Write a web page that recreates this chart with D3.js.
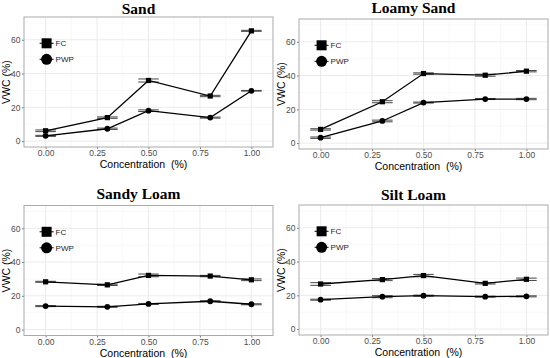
<!DOCTYPE html>
<html lang="en">
<head>
<meta charset="UTF-8">
<title>VWC vs concentration</title>
<script src="https://d3js.org/d3.v7.min.js"></script>
<style>
  body { margin: 0; background: #fff; }
  text { font-family: "Liberation Sans", Arial, sans-serif; }
</style>
</head>
<body>
<svg id="chart" width="550" height="358"></svg>
<script>
// data
const soils = ["Sand", "Loamy Sand", "Sandy Loam", "Silt Loam"];
const concentration = [0, 0.3, 0.5, 0.8, 1.0];

const fcSand = [6.1, 13.9, 35.9, 26.7, 65.3];
const pwpSand = [3.1, 7.3, 18.0, 13.9, 29.8];
const fcLoamySand = [8.1, 24.5, 41.2, 40.2, 42.6];
const pwpLoamySand = [3.2, 13.1, 24.0, 26.1, 26.1];
const fcSandyLoam = [28.3, 26.5, 32.1, 31.7, 29.5];
const pwpSandyLoam = [13.9, 13.5, 15.2, 16.8, 15.0];
const fcSiltLoam = [26.7, 29.3, 31.7, 27.1, 29.5];
const pwpSiltLoam = [17.4, 19.2, 19.8, 19.2, 19.4];

// standard errors (half the spread of the double error-bar lines)
const seFcSand = [0.5, 0.4, 0.9, 0.4, 0.3];
const sePwpSand = [0.3, 0.4, 0.5, 0.3, 0.2];
const seFcLoamySand = [0.4, 0.6, 0.4, 0.6, 0.4];
const sePwpLoamySand = [0.4, 0.5, 0.3, 0.3, 0.4];
const seFcSandyLoam = [0.3, 0.4, 0.8, 0.4, 0.5];
const sePwpSandyLoam = [0.3, 0.3, 0.3, 0.3, 0.3];
const seFcSiltLoam = [0.8, 0.6, 0.7, 0.4, 0.7];
const sePwpSiltLoam = [0.3, 0.6, 0.3, 0.3, 0.3];

const xTicks = [0, 0.25, 0.5, 0.75, 1.0];
const yTicks = [0, 20, 40, 60];

const series = {
  "Sand": [fcSand, pwpSand, seFcSand, sePwpSand],
  "Loamy Sand": [fcLoamySand, pwpLoamySand, seFcLoamySand, sePwpLoamySand],
  "Sandy Loam": [fcSandyLoam, pwpSandyLoam, seFcSandyLoam, sePwpSandyLoam],
  "Silt Loam": [fcSiltLoam, pwpSiltLoam, seFcSiltLoam, sePwpSiltLoam]
};

// panel placement (left, top of the plotting area, title baseline y)
const layout = [
  {left: 24, top: 17, titleY: 13.5},
  {left: 299, top: 19, titleY: 13},
  {left: 24, top: 205.5, titleY: 199},
  {left: 299, top: 205, titleY: 200}
];

const pw = 249, ph = 130;
const svg = d3.select("#chart");

soils.forEach(function (name, k) {
  const L = layout[k];
  const [fc, pwp, seFc, sePwp] = series[name];

  const x = d3.scaleLinear().domain([-0.105, 1.105]).range([0, pw]);
  const y = d3.scaleLinear().domain([-3.5, 73.5]).range([ph, 0]);

  const g = svg.append("g").attr("transform", "translate(" + L.left + "," + L.top + ")");

  // minor grid
  g.selectAll(".xminor").data([0.125, 0.375, 0.625, 0.875]).enter().append("line")
    .attr("x1", d => x(d)).attr("x2", d => x(d)).attr("y1", 0).attr("y2", ph)
    .attr("stroke", "#f3f3f3").attr("stroke-width", 0.6);
  g.selectAll(".yminor").data([10, 30, 50, 70]).enter().append("line")
    .attr("y1", d => y(d)).attr("y2", d => y(d)).attr("x1", 0).attr("x2", pw)
    .attr("stroke", "#f3f3f3").attr("stroke-width", 0.6);
  // major grid
  g.selectAll(".xmajor").data(xTicks).enter().append("line")
    .attr("x1", d => x(d)).attr("x2", d => x(d)).attr("y1", 0).attr("y2", ph)
    .attr("stroke", "#ebebeb").attr("stroke-width", 1);
  g.selectAll(".ymajor").data(yTicks).enter().append("line")
    .attr("y1", d => y(d)).attr("y2", d => y(d)).attr("x1", 0).attr("x2", pw)
    .attr("stroke", "#ebebeb").attr("stroke-width", 1);

  // axes
  const xAxis = g.append("g").attr("transform", "translate(0," + ph + ")")
    .call(d3.axisBottom(x).tickValues(xTicks).tickFormat(d3.format(".2f")).tickSize(2).tickPadding(1));
  const yAxis = g.append("g")
    .call(d3.axisLeft(y).tickValues(yTicks).tickSize(2).tickPadding(1.5));
  [xAxis, yAxis].forEach(function (a) {
    a.select(".domain").remove();
    a.selectAll(".tick line").attr("stroke", "#777");
    a.selectAll(".tick text").attr("fill", "#4d4d4d").style("font-size", "8.5px");
  });

  // border
  g.append("rect").attr("width", pw).attr("height", ph)
    .attr("fill", "none").attr("stroke", "#aaaaaa").attr("stroke-width", 1);

  // error bars (horizontal caps, width 0.1)
  [[fc, seFc], [pwp, sePwp]].forEach(function (s) {
    const vals = s[0], se = s[1];
    concentration.forEach(function (c, i) {
      [vals[i] - se[i], vals[i] + se[i]].forEach(function (v) {
        g.append("line")
          .attr("x1", x(c - 0.05)).attr("x2", x(c + 0.05))
          .attr("y1", y(v)).attr("y2", y(v))
          .attr("stroke", "#444").attr("stroke-width", 1);
      });
    });
  });

  // lines
  const line = d3.line().x((d, i) => x(concentration[i])).y(d => y(d));
  [fc, pwp].forEach(function (vals) {
    g.append("path").attr("d", line(vals))
      .attr("fill", "none").attr("stroke", "#000").attr("stroke-width", 1.3);
  });

  // points
  g.selectAll(".sq").data(fc).enter().append("rect")
    .attr("x", (d, i) => x(concentration[i]) - 2.6).attr("y", d => y(d) - 2.6)
    .attr("width", 5.2).attr("height", 5.2).attr("fill", "#000");
  g.selectAll(".ci").data(pwp).enter().append("circle")
    .attr("cx", (d, i) => x(concentration[i])).attr("cy", d => y(d))
    .attr("r", 2.9).attr("fill", "#000");

  // legend inside the panel
  const lg = g.append("g").attr("transform", "translate(" + (x(0) + 1) + "," + (y(60) + 3.5) + ")");
  lg.append("line").attr("x1", -7).attr("x2", 7).attr("y1", 0).attr("y2", 0)
    .attr("stroke", "#000").attr("stroke-width", 1);
  lg.append("rect").attr("x", -5).attr("y", -5).attr("width", 10).attr("height", 10).attr("fill", "#000");
  lg.append("text").attr("x", 9).attr("y", 3).style("font-size", "8px").attr("fill", "#222").text("FC");
  lg.append("line").attr("x1", -7).attr("x2", 7).attr("y1", 16).attr("y2", 16)
    .attr("stroke", "#000").attr("stroke-width", 1);
  lg.append("circle").attr("cx", 0).attr("cy", 16).attr("r", 5.5).attr("fill", "#000");
  lg.append("text").attr("x", 9).attr("y", 19).style("font-size", "8px").attr("fill", "#222").text("PWP");

  // axis titles
  g.append("text").attr("x", pw / 2 - 5).attr("y", ph + 21)
    .attr("text-anchor", "middle").style("font-size", "10.5px").style("white-space", "pre")
    .attr("fill", "#000").text("Concentration  (%)");
  g.append("text").attr("transform", "translate(-14," + (ph / 2) + ") rotate(-90)")
    .attr("text-anchor", "middle").style("font-size", "10.5px").attr("fill", "#000")
    .text("VWC (%)");

  // panel title
  svg.append("text").attr("x", L.left + pw / 2 - 10).attr("y", L.titleY)
    .attr("text-anchor", "middle")
    .style("font-family", "'Liberation Serif', serif").style("font-weight", "bold").style("font-size", "15.5px")
    .attr("fill", "#000").text(name);
});
</script>
</body>
</html>
